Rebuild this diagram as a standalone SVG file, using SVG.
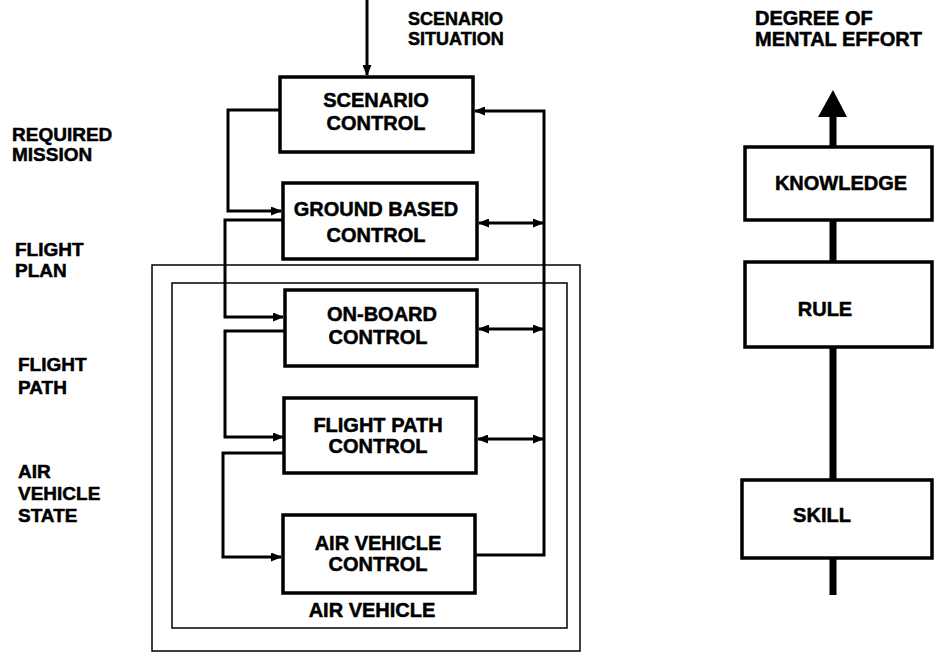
<svg xmlns="http://www.w3.org/2000/svg" width="934" height="654" viewBox="0 0 934 654">
<style>
text{font-family:"Liberation Sans",Arial,sans-serif;font-weight:bold;font-size:20px;fill:#000;stroke:#000;stroke-width:0.5}
.lbl{font-size:19px}
.top{font-size:18px}
.c{text-anchor:middle}
.box{fill:#fff;stroke:#000;stroke-width:3.5}
.frame{fill:none;stroke:#000;stroke-width:1.5}
.ln{fill:none;stroke:#000;stroke-width:3}
.thick{fill:none;stroke:#000;stroke-width:7}
</style>
<defs>
<marker id="ah" markerUnits="userSpaceOnUse" markerWidth="11" markerHeight="9" refX="10" refY="4.5" orient="auto-start-reverse">
<path d="M0,0 L11,4.5 L0,9 Z" fill="#000"/>
</marker>
</defs>
<rect width="934" height="654" fill="#fff"/>

<g id="frames">
<rect class="frame" x="152" y="265" width="428" height="386"/>
<rect class="frame" x="172" y="283" width="395" height="345"/>
<text class="c" x="372" y="617">AIR VEHICLE</text>
</g>

<g id="labels">
<text class="top" x="408" y="25">SCENARIO</text>
<text class="top" x="408" y="45">SITUATION</text>
<text class="lbl" x="12" y="141">REQUIRED</text>
<text class="lbl" x="12" y="161">MISSION</text>
<text class="lbl" x="15" y="256">FLIGHT</text>
<text class="lbl" x="15" y="277">PLAN</text>
<text class="lbl" x="18" y="371">FLIGHT</text>
<text class="lbl" x="18" y="394">PATH</text>
<text class="lbl" x="18" y="478">AIR</text>
<text class="lbl" x="18" y="500">VEHICLE</text>
<text class="lbl" x="18" y="522">STATE</text>
<text x="755" y="25">DEGREE OF</text>
<text x="755" y="46">MENTAL EFFORT</text>
</g>

<g id="connectors">
<line class="ln" x1="367" y1="0" x2="367" y2="75" marker-end="url(#ah)"/>
<path class="ln" d="M280,110 H228 V211 H281" marker-end="url(#ah)"/>
<path class="ln" d="M283,220 H225 V317 H283" marker-end="url(#ah)"/>
<path class="ln" d="M285,331 H225 V437 H283" marker-end="url(#ah)"/>
<path class="ln" d="M284,453 H223 V557 H281" marker-end="url(#ah)"/>
<path class="ln" d="M475,555 H544 V111 H475" marker-end="url(#ah)"/>
<line class="ln" x1="479" y1="223" x2="543" y2="223" marker-start="url(#ah)" marker-end="url(#ah)"/>
<line class="ln" x1="479" y1="329" x2="543" y2="329" marker-start="url(#ah)" marker-end="url(#ah)"/>
<line class="ln" x1="478" y1="439" x2="543" y2="439" marker-start="url(#ah)" marker-end="url(#ah)"/>
<line class="thick" x1="833" y1="595" x2="833" y2="115"/>
<path d="M818,117 L833,90 L847,117 Z" fill="#000"/>
</g>

<g id="scenario-control">
<rect class="box" x="280" y="77" width="193" height="75"/>
<text class="c" x="376" y="107">SCENARIO</text>
<text class="c" x="376" y="130">CONTROL</text>
</g>
<g id="ground-based-control">
<rect class="box" x="283" y="183" width="194" height="76"/>
<text class="c" x="376" y="216">GROUND BASED</text>
<text class="c" x="376" y="242">CONTROL</text>
</g>
<g id="on-board-control">
<rect class="box" x="285" y="290" width="192" height="76"/>
<text class="c" x="382" y="321">ON-BOARD</text>
<text class="c" x="378" y="344">CONTROL</text>
</g>
<g id="flight-path-control">
<rect class="box" x="284" y="398" width="192" height="75"/>
<text class="c" x="378" y="432">FLIGHT PATH</text>
<text class="c" x="378" y="453">CONTROL</text>
</g>
<g id="air-vehicle-control">
<rect class="box" x="283" y="515" width="192" height="78"/>
<text class="c" x="378" y="550">AIR VEHICLE</text>
<text class="c" x="378" y="571">CONTROL</text>
</g>

<g id="knowledge">
<rect class="box" x="745" y="147" width="187" height="73"/>
<text class="c" x="841" y="190">KNOWLEDGE</text>
</g>
<g id="rule">
<rect class="box" x="745" y="262" width="187" height="85"/>
<text class="c" x="825" y="316">RULE</text>
</g>
<g id="skill">
<rect class="box" x="742" y="480" width="190" height="78"/>
<text class="c" x="822" y="522">SKILL</text>
</g>
</svg>
